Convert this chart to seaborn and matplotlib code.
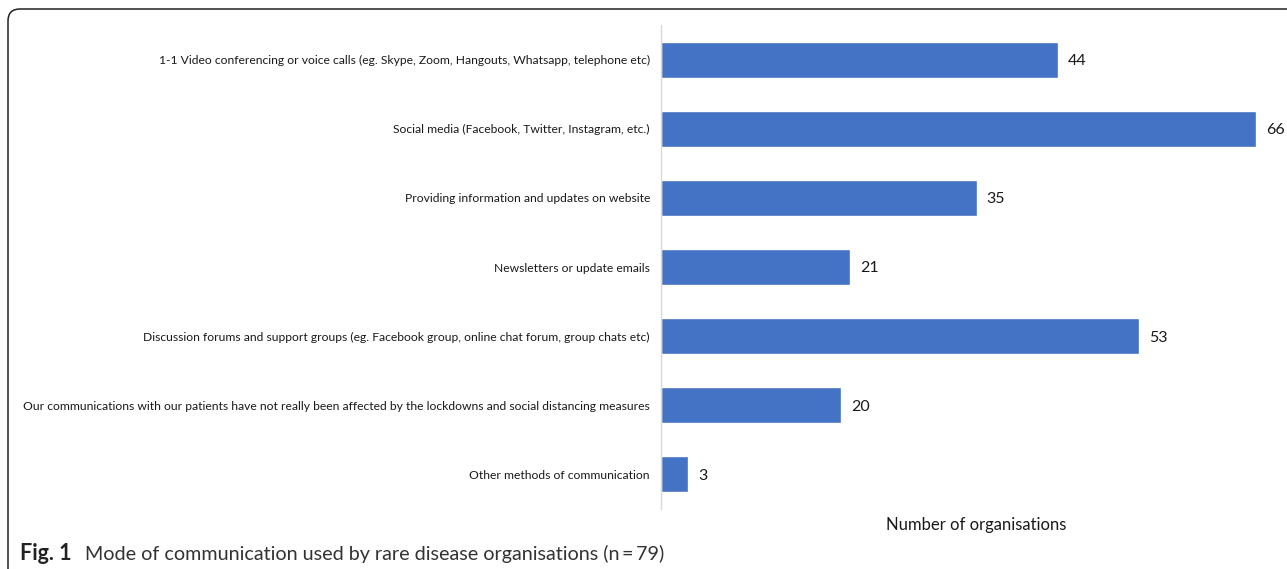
import matplotlib
matplotlib.use("Agg")
import matplotlib.pyplot as plt
from matplotlib.patches import FancyBboxPatch
import seaborn as sns
import pandas as pd

categories = [
    "1-1 Video conferencing or voice calls (eg. Skype, Zoom, Hangouts, Whatsapp, telephone etc)",
    "Social media (Facebook, Twitter, Instagram, etc.)",
    "Providing information and updates on website",
    "Newsletters or update emails",
    "Discussion forums and support groups (eg. Facebook group, online chat forum, group chats etc)",
    "Our communications with our patients have not really been affected by the lockdowns and social distancing measures",
    "Other methods of communication",
]
counts = [44, 66, 35, 21, 53, 20, 3]
x_label = "Number of organisations"
caption_bold = "Fig. 1"
caption_text = "Mode of communication used by rare disease organisations (n\u2009=\u200979)"

sns.set_theme(style="white")
plt.rcParams["font.family"] = ["Lato", "DejaVu Sans"]

W, H = 1287, 569
fig = plt.figure(figsize=(W / 100, H / 100), dpi=100)
ax = fig.add_axes([661 / W, 1 - 509 / H, (1291 - 661) / W, (509 - 25) / H])

df = pd.DataFrame({"category": categories, "count": counts})
sns.barplot(data=df, y="category", x="count", orient="h", color="#4472C4",
            saturation=1, width=0.52, ax=ax)
ax.set_xlim(0, 630 / 9.02)
ax.set_ylim(6.5, -0.5)
for c in ax.containers:
    ax.bar_label(c, padding=7, fontsize=11.5, color="#1a1a1a")
for t in ax.texts:
    t.set_va("center_baseline")

for s in ["top", "right", "bottom"]:
    ax.spines[s].set_visible(False)
ax.spines["left"].set_color("#d9d9d9")
ax.spines["left"].set_linewidth(1.0)
ax.set_xticks([])
ax.set_ylabel("")
ax.set_xlabel(x_label, fontsize=12, color="#1a1a1a", labelpad=6)
ax.tick_params(axis="y", length=0, pad=8, labelsize=8.75, labelcolor="#1a1a1a")

# rounded frame
frame = FancyBboxPatch((8 / 100, -0.5), 20, (H - 9) / 100 + 0.5,
                       boxstyle="round,pad=0,rounding_size=0.12",
                       transform=fig.dpi_scale_trans, fill=False,
                       edgecolor="#222222", linewidth=1.1, clip_on=False)
fig.patches.append(frame)

t1 = fig.text(20 / W, 1 - 560 / H, caption_bold, fontsize=15.5, fontweight="bold",
              color="#222222", va="baseline", ha="left")
fig.canvas.draw()
bb = t1.get_window_extent()
fig.text((bb.x1 + 13) / W, 1 - 560 / H, caption_text, fontsize=14.2,
         color="#333333", va="baseline", ha="left")

fig.savefig("out.png", dpi=100)
